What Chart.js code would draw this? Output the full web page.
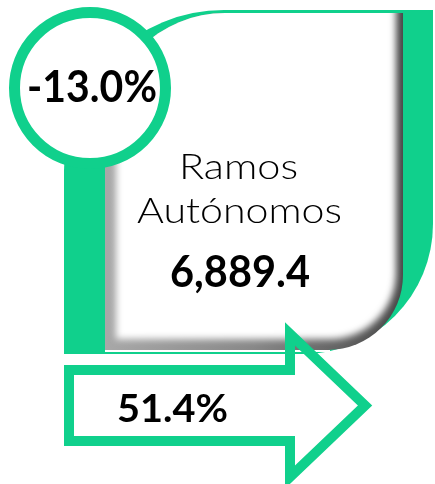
<!DOCTYPE html>
<html>
<head>
<meta charset="utf-8">
<script src="https://cdn.jsdelivr.net/npm/chart.js@4.4.1/dist/chart.umd.min.js"></script>
<style>
  html, body { margin: 0; padding: 0; background: #fff; overflow: hidden; }
  canvas { display: block; }
</style>
</head>
<body>
<canvas id="infographic" width="435" height="484"></canvas>
<script>
// ---- data ----
const categories = ['Ramos Autónomos'];
const amounts    = [6889.4];   // monto
const growthPct  = [-13.0];    // variación
const sharePct   = [51.4];     // participación

const GREEN = '#10d08c';

// rounded rect with per-corner radii (tl, tr, br, bl)
function shapePath(ctx, x0, y0, x1, y1, r) {
  ctx.beginPath();
  ctx.moveTo(x0 + r[0], y0);
  ctx.lineTo(x1 - r[1], y0);
  if (r[1]) ctx.arcTo(x1, y0, x1, y0 + r[1], r[1]); else ctx.lineTo(x1, y0);
  ctx.lineTo(x1, y1 - r[2]);
  if (r[2]) ctx.arcTo(x1, y1, x1 - r[2], y1, r[2]); else ctx.lineTo(x1, y1);
  ctx.lineTo(x0 + r[3], y1);
  if (r[3]) ctx.arcTo(x0, y1, x0, y1 - r[3], r[3]); else ctx.lineTo(x0, y1);
  ctx.lineTo(x0, y0 + r[0]);
  if (r[0]) ctx.arcTo(x0, y0, x0 + r[0], y0, r[0]); else ctx.lineTo(x0, y0);
  ctx.closePath();
}

// centred text squeezed/stretched to a given width
function fitText(ctx, txt, cx, base, font, w) {
  ctx.save();
  ctx.font = font;
  const m = ctx.measureText(txt).width;
  ctx.translate(cx, base);
  ctx.scale(w / m, 1);
  ctx.textAlign = 'center';
  ctx.textBaseline = 'alphabetic';
  ctx.fillStyle = '#000';
  ctx.fillText(txt, 0, 0);
  ctx.restore();
}

const infoPlugin = {
  id: 'info',
  beforeDatasetsDraw(chart) {
    const ctx = chart.ctx;
    const xs = chart.scales.x, ys = chart.scales.y;
    const X = v => xs.getPixelForValue(v);
    const Y = v => ys.getPixelForValue(v);

    // green back shape
    ctx.save();
    shapePath(ctx, X(64), Y(10), X(433), Y(354), [160, 0, 130, 0]);
    ctx.fillStyle = GREEN;
    ctx.fill();
    ctx.restore();

    // white card with bevel
    ctx.save();
    ctx.fillStyle = '#fff';
    ctx.fillRect(X(105), Y(350), X(330) - X(105), 2);
    shapePath(ctx, X(105), Y(13), X(403), Y(350), [120, 0, 75, 0]);
    ctx.clip();
    const g = ctx.createLinearGradient(X(105), 0, X(403), 0);
    g.addColorStop(0, '#a8a8a8');
    g.addColorStop(0.5, '#888888');
    g.addColorStop(1, '#484848');
    ctx.fillStyle = g;
    ctx.fillRect(X(100), Y(0), X(340) - X(0), Y(360) - Y(0));
    ctx.filter = 'blur(3.5px)';
    shapePath(ctx, X(116), Y(-20), X(396), Y(339), [120, 0, 66, 0]);
    ctx.fillStyle = '#fff';
    ctx.fill();
    ctx.restore();

    // circle badge
    ctx.save();
    ctx.beginPath();
    ctx.arc(X(90), Y(88), 75.5, 0, Math.PI * 2);
    ctx.fillStyle = '#fff';
    ctx.fill();
    ctx.lineWidth = 11;
    ctx.strokeStyle = GREEN;
    ctx.stroke();
    ctx.restore();

    // arrow outline
    ctx.save();
    ctx.beginPath();
    ctx.moveTo(X(69), Y(370));
    ctx.lineTo(X(290), Y(370));
    ctx.lineTo(X(290), Y(334));
    ctx.lineTo(X(365), Y(405.5));
    ctx.lineTo(X(290), Y(477));
    ctx.lineTo(X(290), Y(441));
    ctx.lineTo(X(69), Y(441));
    ctx.closePath();
    ctx.lineWidth = 10;
    ctx.lineJoin = 'miter';
    ctx.strokeStyle = GREEN;
    ctx.stroke();
    ctx.restore();

    // texts
    const words = categories[0].split(' ');
    const regular = '300 36px Lato, "DejaVu Sans"';
    const bold = 'bold 44px Lato, "DejaVu Sans"';
    fitText(ctx, growthPct[0].toFixed(1) + '%', X(92), Y(102), bold, 130);
    fitText(ctx, words[0], X(238.5), Y(179), regular, 119);
    fitText(ctx, words[1], X(239.5), Y(223), regular, 205);
    fitText(ctx, amounts[0].toLocaleString('en-US', { minimumFractionDigits: 1 }),
            X(240), Y(287), bold, 140);
    fitText(ctx, sharePct[0].toFixed(1) + '%', X(172.5), Y(422), 'bold 38px Lato, "DejaVu Sans"', 111);
  }
};

new Chart(document.getElementById('infographic'), {
  type: 'scatter',
  data: { datasets: [] },
  options: {
    responsive: false,
    animation: false,
    layout: { padding: 0 },
    plugins: { legend: { display: false }, tooltip: { enabled: false } },
    scales: {
      x: { type: 'linear', min: 0, max: 435, display: false },
      y: { type: 'linear', min: 0, max: 484, reverse: true, display: false }
    }
  },
  plugins: [infoPlugin]
});
</script>
</body>
</html>
